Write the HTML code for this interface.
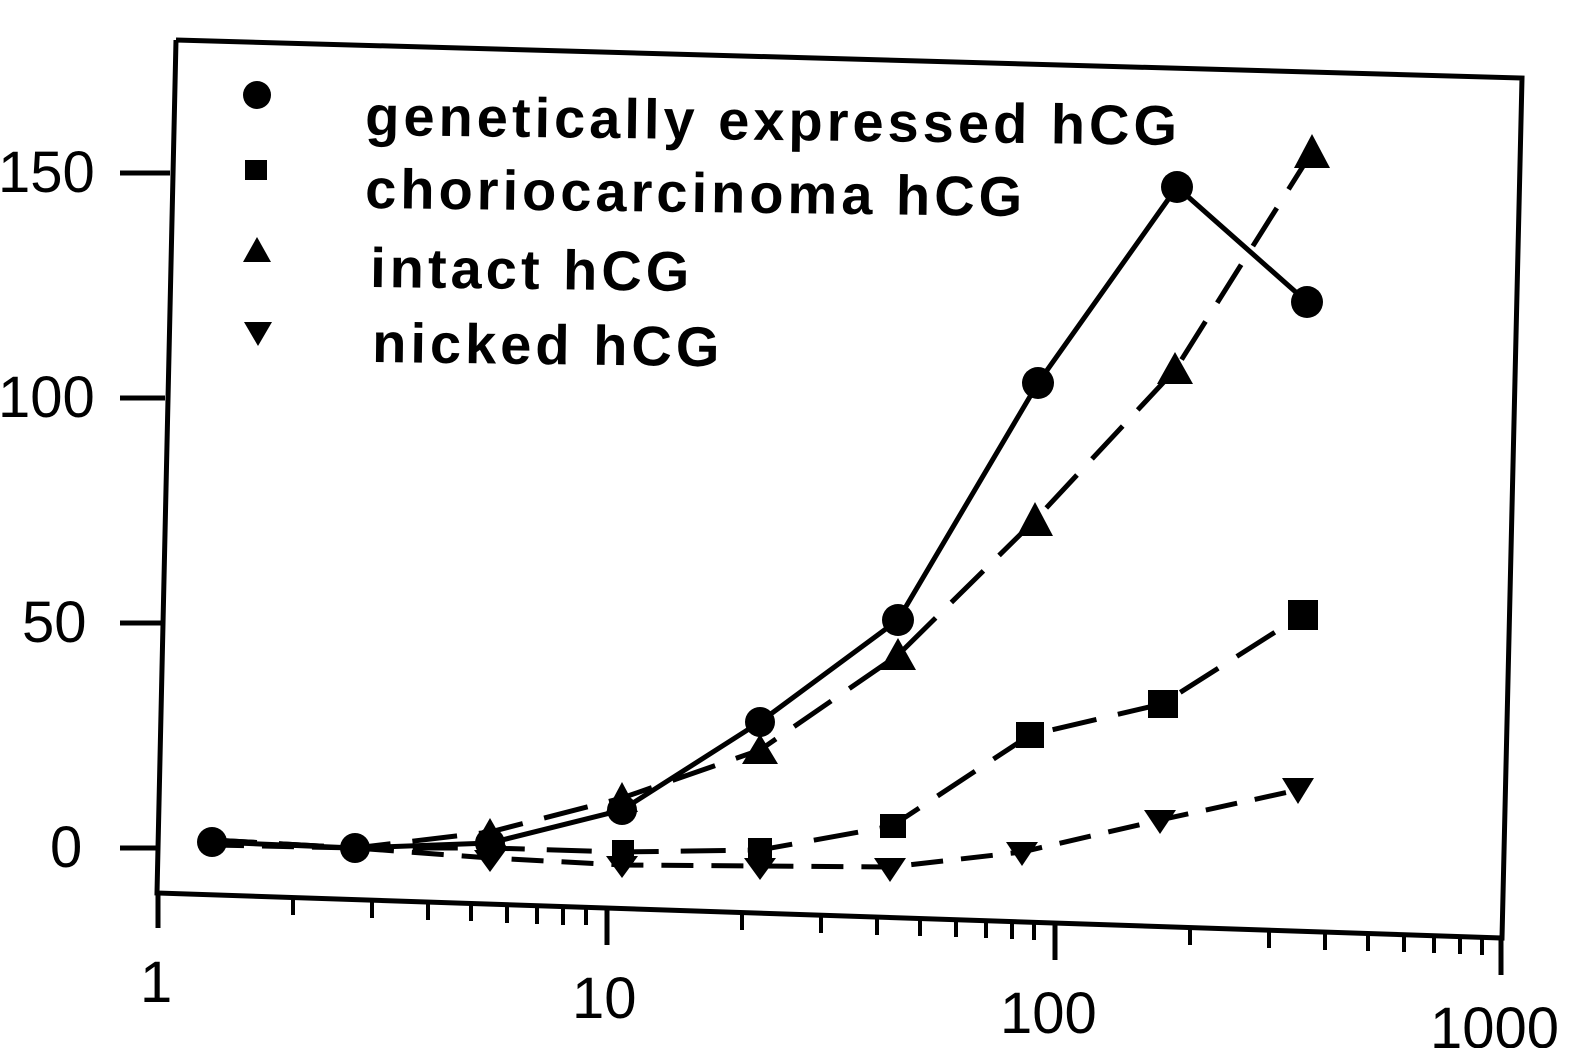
<!DOCTYPE html>
<html><head><meta charset="utf-8"><style>
html,body{margin:0;padding:0;background:#fff;}
svg{display:block;}
text{font-family:"Liberation Sans",sans-serif;fill:#000;}
</style></head><body>
<svg width="1570" height="1048" viewBox="0 0 1570 1048" xmlns="http://www.w3.org/2000/svg">
<g stroke="#000" fill="none" stroke-width="5">
<polyline points="176,40 1522,78 1502,938 157,893 176,40"/>
<line x1="120" y1="173" x2="170" y2="173"/>
<line x1="120" y1="398" x2="165" y2="398"/>
<line x1="120" y1="623" x2="162" y2="623"/>
<line x1="120" y1="848" x2="158" y2="848"/>
</g>
<g font-size="58">
<text x="-2" y="192">150</text>
<text x="-2" y="417">100</text>
<text x="22" y="642">50</text>
<text x="50" y="867">0</text>
<text x="140" y="1002">1</text>
<text x="572" y="1018">10</text>
<text x="1000" y="1033">100</text>
<text x="1430" y="1048">1000</text>
</g>
<g font-size="56" font-weight="bold" letter-spacing="4">
<text x="365" y="135" transform="rotate(0.7 365 135)">genetically expressed hCG</text>
<text x="365" y="208" transform="rotate(0.7 365 208)">choriocarcinoma hCG</text>
<text x="370" y="287" transform="rotate(0.7 370 287)">intact hCG</text>
<text x="372" y="362" transform="rotate(0.7 372 362)">nicked hCG</text>
</g>
<g fill="#000">
<circle cx="257" cy="95" r="14"/>
<rect x="245" y="160" width="22" height="20"/>
<polygon points="257,237 271,262 243,262"/>
<polygon points="244,322 272,322 258,346"/>
</g>
<g stroke="#000" stroke-width="5" fill="none">
<polyline points="212,842 355,848 490,843 622,810 760,722 898,620 1038,383 1177,187 1307,302"/>
<polyline stroke-dasharray="45,22" points="212,840 355,848 490,848 622,852 760,850 892,826 1030,735 1162,704 1302,615"/>
<polyline stroke-dasharray="45,22" points="212,840 355,848 490,832 622,798 760,750 898,655 1035,520 1175,370 1312,152"/>
<polyline stroke-dasharray="32,18" points="212,845 355,848 490,858 622,865 760,866 890,867 1022,852 1160,820 1298,790"/>
</g>
<g fill="#000">
<circle cx="212" cy="842" r="15"/><circle cx="355" cy="848" r="15"/><circle cx="490" cy="843" r="15"/><circle cx="622" cy="810" r="15"/><circle cx="760" cy="722" r="15"/><circle cx="898" cy="620" r="16"/><circle cx="1038" cy="383" r="16"/><circle cx="1177" cy="187" r="16"/><circle cx="1307" cy="302" r="16"/>
<rect x="612" y="840" width="22" height="22"/><rect x="748" y="838" width="24" height="24"/><rect x="880" y="814" width="26" height="24"/><rect x="1016" y="722" width="28" height="26"/><rect x="1148" y="690" width="30" height="28"/><rect x="1288" y="600" width="30" height="30"/>
<polygon points="490,818 506,846 474,846"/><polygon points="622,782 638,812 606,812"/><polygon points="760,734 778,764 742,764"/><polygon points="898,638 916,670 880,670"/><polygon points="1035,502 1053,536 1017,536"/><polygon points="1175,352 1193,384 1157,384"/><polygon points="1312,134 1330,168 1294,168"/>
<polygon points="474,850 506,850 490,872"/><polygon points="606,856 638,856 622,878"/><polygon points="744,858 776,858 760,880"/><polygon points="874,858 906,858 890,882"/><polygon points="1006,842 1038,842 1022,866"/><polygon points="1144,810 1176,810 1160,834"/><polygon points="1282,778 1314,778 1298,804"/>
</g>
<g stroke="#000" stroke-width="5" fill="none">
<line x1="158" y1="893" x2="158" y2="928"/>
<line x1="607" y1="908" x2="607" y2="945"/>
<line x1="1055" y1="923" x2="1055" y2="960"/>
<line x1="1501" y1="938" x2="1501" y2="975"/>
</g>
<g stroke="#000" stroke-width="4">
<line x1="293" y1="897" x2="293" y2="915"/><line x1="372" y1="900" x2="372" y2="918"/><line x1="428" y1="902" x2="428" y2="920"/><line x1="471" y1="903" x2="471" y2="921"/><line x1="507" y1="905" x2="507" y2="923"/><line x1="537" y1="906" x2="537" y2="924"/><line x1="563" y1="907" x2="563" y2="925"/><line x1="586" y1="907" x2="586" y2="925"/>
<line x1="742" y1="912" x2="742" y2="930"/><line x1="821" y1="915" x2="821" y2="933"/><line x1="877" y1="917" x2="877" y2="935"/><line x1="920" y1="918" x2="920" y2="936"/><line x1="956" y1="919" x2="956" y2="937"/><line x1="986" y1="920" x2="986" y2="938"/><line x1="1012" y1="921" x2="1012" y2="939"/><line x1="1034" y1="922" x2="1034" y2="940"/>
<line x1="1190" y1="927" x2="1190" y2="945"/><line x1="1269" y1="930" x2="1269" y2="948"/><line x1="1325" y1="932" x2="1325" y2="950"/><line x1="1368" y1="933" x2="1368" y2="951"/><line x1="1404" y1="934" x2="1404" y2="952"/><line x1="1434" y1="935" x2="1434" y2="953"/><line x1="1460" y1="936" x2="1460" y2="954"/><line x1="1482" y1="937" x2="1482" y2="955"/>
</g>
</svg>
</body></html>
